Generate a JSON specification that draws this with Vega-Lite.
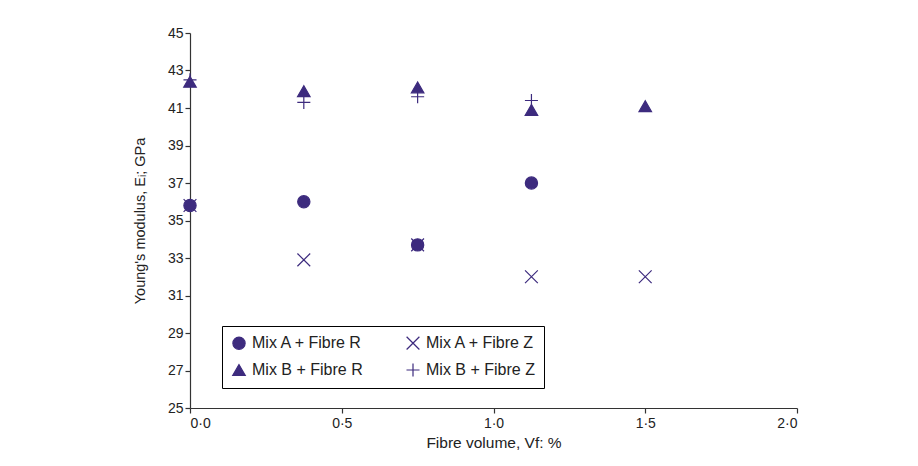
{
  "$schema": "https://vega.github.io/schema/vega-lite/v6.json",
  "width": 607,
  "height": 375,
  "autosize": "none",
  "padding": {"left": 190, "top": 33, "right": 121, "bottom": 58},
  "background": "white",
  "config": {
    "view": {"stroke": null},
    "font": "Liberation Sans",
    "axis": {"grid": false, "domainColor": "#333", "tickColor": "#333", "labelColor": "#222", "titleColor": "#222", "labelFont": "Liberation Sans", "titleFont": "Liberation Sans", "labelFontSize": 14, "titleFontSize": 14.5, "titleFontWeight": "normal", "tickSize": 5, "domainWidth": 1.2, "tickWidth": 1.2}
  },
  "data": {
    "values": [
      {"vf": 0, "E": 35.8, "series": "Mix A + Fibre Z"},
      {"vf": 0.375, "E": 32.9, "series": "Mix A + Fibre Z"},
      {"vf": 0.75, "E": 33.7, "series": "Mix A + Fibre Z"},
      {"vf": 1.125, "E": 32.0, "series": "Mix A + Fibre Z"},
      {"vf": 1.5, "E": 32.0, "series": "Mix A + Fibre Z"},
      {"vf": 0, "E": 42.5, "series": "Mix B + Fibre Z"},
      {"vf": 0.375, "E": 41.3, "series": "Mix B + Fibre Z"},
      {"vf": 0.75, "E": 41.6, "series": "Mix B + Fibre Z"},
      {"vf": 1.125, "E": 41.4, "series": "Mix B + Fibre Z"},
      {"vf": 0, "E": 35.8, "series": "Mix A + Fibre R"},
      {"vf": 0.375, "E": 36.0, "series": "Mix A + Fibre R"},
      {"vf": 0.75, "E": 33.7, "series": "Mix A + Fibre R"},
      {"vf": 1.125, "E": 37.0, "series": "Mix A + Fibre R"},
      {"vf": 0, "E": 42.4, "series": "Mix B + Fibre R"},
      {"vf": 0.375, "E": 41.9, "series": "Mix B + Fibre R"},
      {"vf": 0.75, "E": 42.1, "series": "Mix B + Fibre R"},
      {"vf": 1.125, "E": 40.9, "series": "Mix B + Fibre R"},
      {"vf": 1.5, "E": 41.1, "series": "Mix B + Fibre R"}
    ]
  },
  "mark": {"type": "point", "filled": false, "strokeWidth": 1.2, "opacity": 1},
  "encoding": {
    "x": {
      "field": "vf", "type": "quantitative",
      "scale": {"domain": [0, 2], "nice": false, "zero": false},
      "axis": {"values": [0, 0.5, 1, 1.5, 2], "labelExpr": "replace(format(datum.value, '.1f'), '.', '·')", "labelPadding": 3, "title": "Fibre volume, Vf: %", "titlePadding": 5, "titleFontSize": 15.5}
    },
    "y": {
      "field": "E", "type": "quantitative",
      "scale": {"domain": [25, 45], "nice": false, "zero": false},
      "axis": {"values": [25, 27, 29, 31, 33, 35, 37, 39, 41, 43, 45], "labelPadding": 2, "title": "Young's modulus, Eᵢ; GPa", "titlePadding": 20}
    },
    "shape": {
      "field": "series", "type": "nominal",
      "scale": {"domain": ["Mix A + Fibre R", "Mix B + Fibre R", "Mix A + Fibre Z", "Mix B + Fibre Z"], "range": ["circle", "triangle-up", "M-1,-1L1,1M-1,1L1,-1", "M-1,0H1M0,-1V1"]},
      "legend": {"title": null, "orient": "none", "legendX": 32, "legendY": 293, "columns": 2, "strokeColor": "black", "fillColor": "white", "padding": 9, "columnPadding": 41, "rowPadding": 9, "labelFontSize": 16, "labelFont": "Liberation Sans", "labelColor": "#222", "labelOffset": 5, "symbolStrokeWidth": 1.2}
    },
    "fill": {
      "field": "series", "type": "nominal",
      "scale": {"domain": ["Mix A + Fibre R", "Mix B + Fibre R", "Mix A + Fibre Z", "Mix B + Fibre Z"], "range": ["#3d2b7e", "#3d2b7e", "transparent", "transparent"]}
    },
    "stroke": {
      "field": "series", "type": "nominal",
      "scale": {"domain": ["Mix A + Fibre R", "Mix B + Fibre R", "Mix A + Fibre Z", "Mix B + Fibre Z"], "range": ["#3d2b7e", "#3d2b7e", "#3d2b7e", "#3d2b7e"]}
    },
    "size": {
      "field": "series", "type": "nominal",
      "scale": {"domain": ["Mix A + Fibre R", "Mix B + Fibre R", "Mix A + Fibre Z", "Mix B + Fibre Z"], "range": [150, 170, 150, 150]}
    }
  }
}
